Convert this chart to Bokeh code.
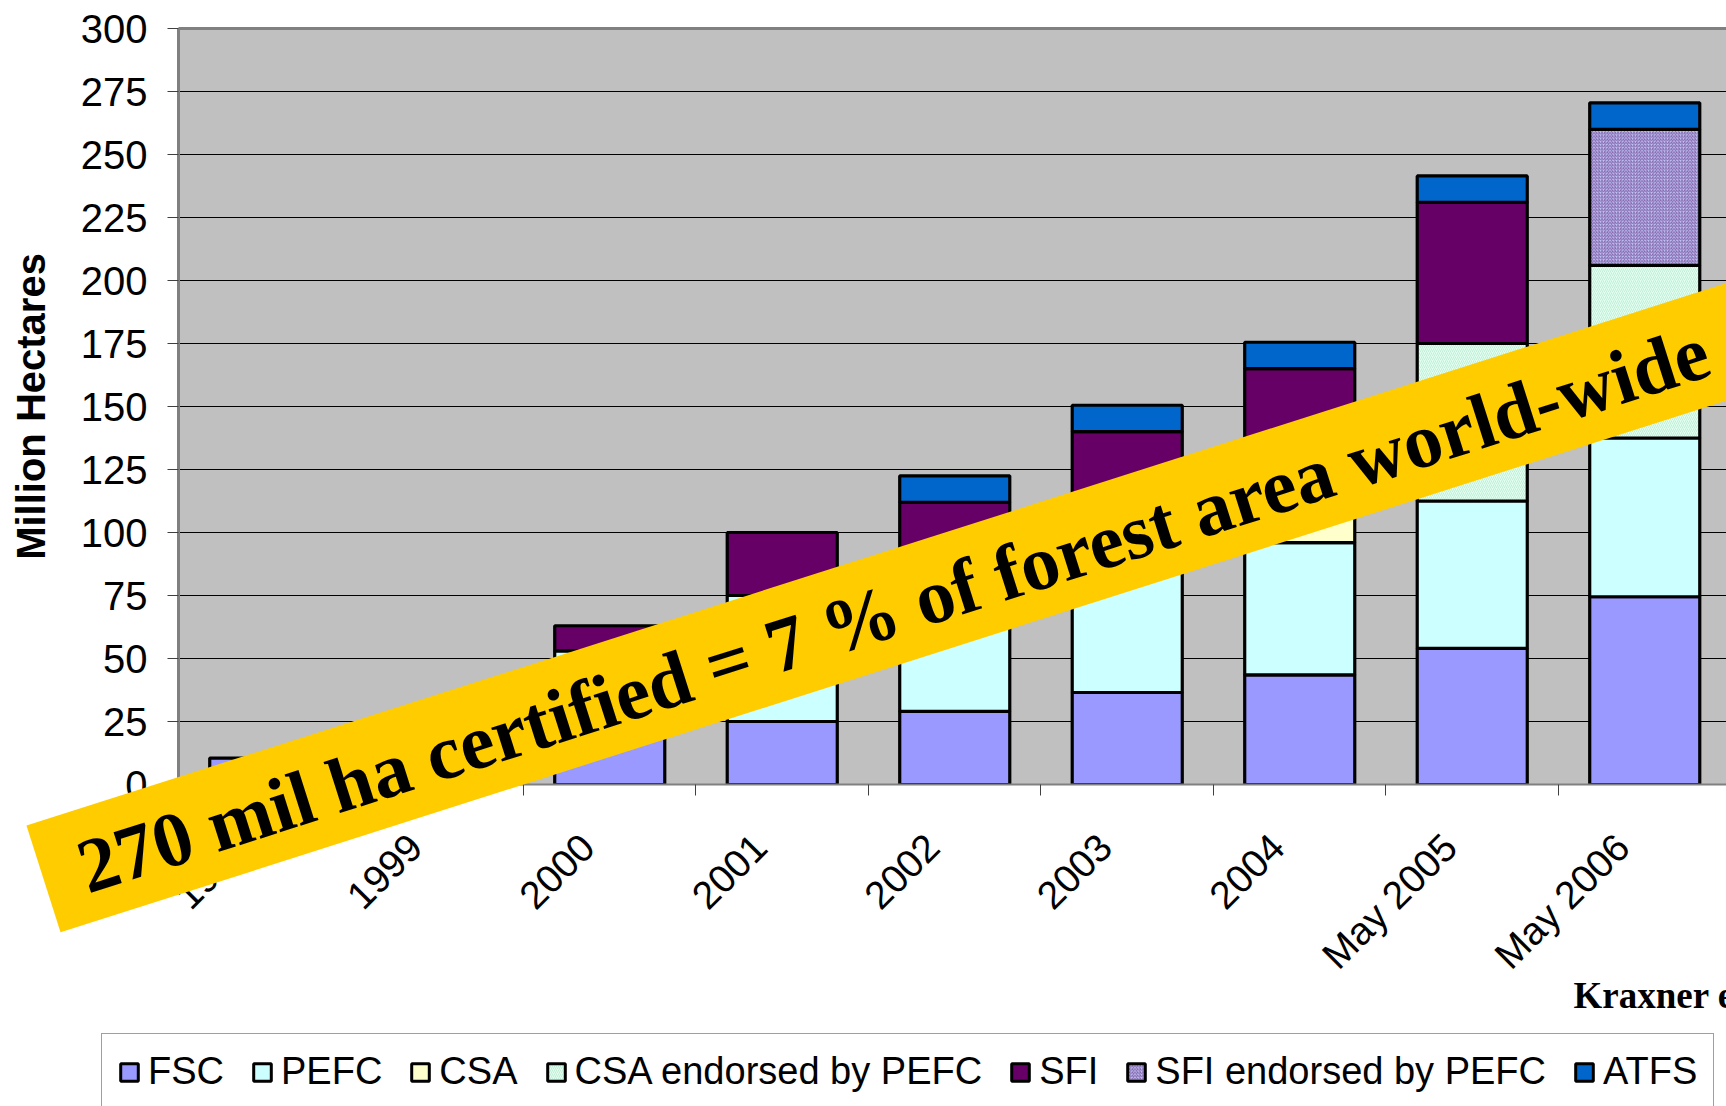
import math
import numpy as np
from bokeh.plotting import figure
from bokeh.layouts import column
from bokeh.models import (ColumnDataSource, Range1d, FixedTicker, LinearAxis,
                          Legend, LegendItem)
from bokeh.core.properties import value
from bokeh.embed import file_html
from bokeh.resources import INLINE

# ---------------- data (million hectares) ----------------
categories = ["1998", "1999", "2000", "2001", "2002", "2003", "2004", "May 2005", "May 2006"]
fsc      = [10.5, 19, 22, 25, 29, 36.5, 43.5, 54, 74.5]
pefc     = [0, 6, 31, 50, 51, 50, 52.5, 58.5, 63]
csa      = [0, 0, 0, 0, 8, 13.5, 20.5, 0, 0]
csa_pefc = [0, 0, 0, 0, 0, 0, 0, 62.5, 68.5]
sfi      = [0, 0, 10, 25, 24, 40, 48.5, 56, 0]
sfi_pefc = [0, 0, 0, 0, 0, 0, 0, 0, 54]
atfs     = [0, 0, 0, 0, 10.5, 10.5, 10.5, 10.5, 10.5]
series_names = ["FSC", "PEFC", "CSA", "CSA endorsed by PEFC", "SFI",
                "SFI endorsed by PEFC", "ATFS"]
series_values = [fsc, pefc, csa, csa_pefc, sfi, sfi_pefc, atfs]
y_ticks = list(range(0, 301, 25))
y_title = "Million Hectares"
banner_text = "270 mil ha certified = 7 % of forest area world-wide"
source_text = "Kraxner et al. 2006"

# ---------------- styles ----------------
styles = [
    dict(fill_color="#9999FF"),
    dict(fill_color="#CCFFFF"),
    dict(fill_color="#FFFFCC"),
    dict(fill_color="#E2FFF0", hatch_pattern="/", hatch_color="#C2EED8",
         hatch_scale=4, hatch_weight=1),
    dict(fill_color="#660066"),
    dict(fill_color="#C0C6F6", hatch_pattern="/", hatch_color="#6A3A8A",
         hatch_scale=3.2, hatch_weight=0.75),
    dict(fill_color="#0066CC"),
]

n = len(categories)
centers = [i + 0.5 for i in range(n)]
bounds = list(range(n + 1))
label_shift = 0.128          # Excel-like offset of the rotated category labels
label_pos = [c - label_shift for c in centers]

W = 1726
H_MAIN, H_LEG = 1032, 74
p = figure(width=W, height=H_MAIN, output_backend="svg", toolbar_location=None,
           x_range=Range1d(0, 8.974), y_range=Range1d(0, 300),
           min_border_left=178, min_border_right=0, min_border_top=28,
           min_border_bottom=H_MAIN - 784,
           background_fill_color="#C0C0C0", border_fill_color="white",
           outline_line_color=None)

# bars
bottom = np.zeros(n)
for name, vals, st in zip(series_names, series_values, styles):
    v = np.array(vals, dtype=float)
    top = bottom + v
    mask = v > 0
    src = ColumnDataSource(dict(x=np.array(centers)[mask], bottom=bottom[mask], top=top[mask]))
    p.vbar(x="x", bottom="bottom", top="top", width=0.638, source=src,
           line_color="black", line_width=3.2, **st)
    bottom = top

# grid
p.xgrid.grid_line_color = None
p.ygrid.ticker = FixedTicker(ticks=y_ticks)
p.ygrid.grid_line_color = "black"
p.ygrid.grid_line_width = 1

# x axis
xa = p.xaxis[0]
xa.ticker = FixedTicker(ticks=label_pos, minor_ticks=bounds)
xa.major_label_overrides = {c: lab for c, lab in zip(label_pos, categories)}
xa.major_tick_out = 0
xa.major_tick_in = 0
xa.minor_tick_out = 11
xa.minor_tick_in = 0
xa.minor_tick_line_color = "#404040"
xa.axis_line_color = "#808080"
xa.axis_line_width = 2
xa.major_label_orientation = math.pi / 4
xa.major_label_text_font = "Liberation Sans"
xa.major_label_text_font_size = "39px"
xa.major_label_text_color = "black"
xa.major_label_standoff = 45

# y axis
ya = p.yaxis[0]
ya.ticker = FixedTicker(ticks=y_ticks)
ya.major_tick_out = 11
ya.major_tick_in = 0
ya.minor_tick_line_color = None
ya.major_tick_line_color = "#404040"
ya.axis_line_color = "#808080"
ya.axis_line_width = 3
ya.major_label_standoff = 20
ya.major_label_text_font = "Liberation Sans"
ya.major_label_text_font_size = "40px"
ya.major_label_text_color = "black"
ya.axis_label = y_title
ya.axis_label_text_font = "Liberation Sans"
ya.axis_label_text_font_style = "bold"
ya.axis_label_text_font_size = "40px"
ya.axis_label_text_color = "black"
ya.axis_label_standoff = 25

# top border of plot area
top_axis = LinearAxis(ticker=FixedTicker(ticks=[]), major_tick_out=0, major_tick_in=0,
                      minor_tick_out=0, minor_tick_in=0, major_label_text_font_size="0px",
                      axis_line_color="#808080", axis_line_width=3)
p.add_layout(top_axis, "above")

# banner and source note (overlay level, so they may cover the axes)
p.rect(x=[4.602], y=[80.16], width=1950, height=112,
       width_units="screen", height_units="screen",
       angle=17.7, angle_units="deg",
       fill_color="#FFCC00", line_color=None, level="overlay")
p.text(x=[-0.571], y=[-33.5], text=[banner_text], angle=17.7, angle_units="deg",
       text_font=value("Liberation Serif"), text_font_style="bold",
       text_font_size="77.5px", text_color="black",
       text_align="left", text_baseline="alphabetic", level="overlay")
p.text(x=[8.087], y=[-83.6], text=[source_text],
       text_font=value("Liberation Serif"), text_font_style="bold",
       text_font_size="37px", text_color="black",
       text_align="left", text_baseline="alphabetic", level="overlay")

# ---------------- legend strip ----------------
pl = figure(width=W, height=H_LEG, output_backend="svg", toolbar_location=None,
            x_range=Range1d(0, 1), y_range=Range1d(0, 1),
            x_axis_location=None, y_axis_location=None,
            min_border_left=101, min_border_right=0, min_border_top=1, min_border_bottom=0,
            background_fill_color="white", border_fill_color="white",
            outline_line_color=None)
if hasattr(pl, "frame_align"):
    pl.frame_align = False
    p.frame_align = False
pl.xgrid.grid_line_color = None
pl.ygrid.grid_line_color = None
items = []
for name, st in zip(series_names, styles):
    key_src = ColumnDataSource(dict(x=np.array([np.nan]), top=np.array([np.nan])))
    r = pl.vbar(x="x", top="top", width=0.5, source=key_src,
                line_color="black", line_width=3, **st)
    items.append(LegendItem(label=name, renderers=[r]))
legend = Legend(items=items, orientation="horizontal", location="top_left",
                glyph_width=22, glyph_height=22, label_standoff=8, spacing=27,
                padding=16, margin=0,
                label_text_font="Liberation Sans", label_text_font_size="38px",
                label_text_color="black",
                border_line_color="#404040", border_line_width=1.5,
                background_fill_color="white", background_fill_alpha=1.0)
pl.add_layout(legend)

open("out.html", "w").write(file_html(column(p, pl, spacing=0), INLINE))
